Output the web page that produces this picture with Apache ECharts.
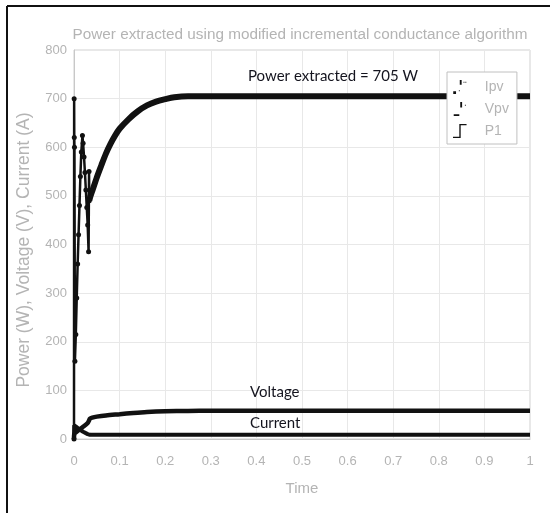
<!DOCTYPE html>
<html>
<head>
<meta charset="utf-8">
<script src="https://cdn.jsdelivr.net/npm/echarts@6/dist/echarts.min.js"></script>
<style>
html,body{margin:0;padding:0;background:#fff;}
#c{width:550px;height:513px;}
</style>
</head>
<body>
<div id="c"></div>
<script>
// ---- data ----
const xTicks = ['0','0.1','0.2','0.3','0.4','0.5','0.6','0.7','0.8','0.9','1'];
const yTicks = ['0','100','200','300','400','500','600','700','800'];

// Power P1 - start-up transient (dotted trace)
const pTransT = [0, 0.0003, 0.0006, 0.001, 0.002, 0.004, 0.006, 0.008, 0.010, 0.012, 0.014, 0.016, 0.0185, 0.020, 0.022, 0.024, 0.026, 0.028, 0.030, 0.032, 0.033, 0.0335];
const pTransV = [0, 700, 620, 600, 160, 215, 290, 360, 420, 480, 540, 590, 624, 608, 580, 548, 512, 476, 440, 385, 550, 490];
// Power P1 - settling curve
const pMainT = [0.0335, 0.035, 0.04, 0.05, 0.06, 0.07, 0.08, 0.09, 0.10, 0.12, 0.14, 0.16, 0.18, 0.20, 0.22, 0.25, 0.30, 1.0];
const pMainV = [490, 496, 510, 538, 563, 587, 607, 624, 638, 658, 674, 686, 694, 699, 703, 705, 705, 705];
// Voltage Vpv
const vT = [0, 0.0005, 0.005, 0.010, 0.020, 0.030, 0.033, 0.035, 0.04, 0.05, 0.07, 0.10, 0.13, 0.16, 0.20, 0.25, 0.30, 1.0];
const vV = [0, 10, 14, 18, 25, 33, 38, 42, 44, 46, 48.5, 51, 53.5, 55.5, 57, 57.8, 58, 58];
// Current Ipv
const iT = [0, 0.0005, 0.005, 0.010, 0.020, 0.030, 0.035, 1.0];
const iV = [0, 28, 25, 21, 15, 10, 8.5, 8.5];

const titleText = 'Power extracted using modified incremental conductance algorithm';
const yName = 'Power (W), Voltage (V), Current (A)';
const xName = 'Time';
const notePower = 'Power extracted = 705 W';
const noteVolt = 'Voltage';
const noteCurr = 'Current';
// ---------------------------------------

const zip = (a, b) => a.map((t, i) => [t, b[i]]);
const gray = '#b4b4b4';
const font = 'Liberation Sans, Arial, sans-serif';

const chart = echarts.init(document.getElementById('c'), null, {renderer: 'canvas'});
chart.setOption({
  animation: false,
  backgroundColor: '#fff',
  grid: {left: 74, right: 20, top: 50, bottom: 74, show: true, borderColor: '#d0d0d0', borderWidth: 1},
  xAxis: {
    type: 'value', min: 0, max: 1, interval: 0.1,
    name: xName, nameLocation: 'middle', nameGap: 42,
    nameTextStyle: {color: gray, fontSize: 15, fontFamily: font},
    axisLine: {show: true, lineStyle: {color: '#c8c8c8'}},
    axisTick: {show: false},
    axisLabel: {color: gray, fontSize: 13, fontFamily: font, margin: 16,
      formatter: v => xTicks[Math.round(v * 10)]},
    splitLine: {show: true, lineStyle: {color: '#e8e8e8', width: 1}}
  },
  yAxis: {
    type: 'value', min: 0, max: 800, interval: 100,
    axisLine: {show: true, lineStyle: {color: '#c8c8c8'}},
    axisTick: {show: false},
    axisLabel: {color: gray, fontSize: 13, fontFamily: font, margin: 7,
      formatter: v => yTicks[Math.round(v / 100)]},
    splitLine: {show: true, lineStyle: {color: '#e8e8e8', width: 1}}
  },
  legend: {
    orient: 'vertical', left: 447, top: 72,
    backgroundColor: '#fff', borderColor: '#c0c0c0', borderWidth: 1,
    padding: [8, 8, 6, 6], itemGap: 8, itemWidth: 16, itemHeight: 14,
    textStyle: {color: gray, fontSize: 14, fontFamily: font, padding: [2, 0, 0, 12]},
    data: [
      {name: 'Ipv', icon: 'path://M7,0h2v5h-2z M0,12h3v3h-3z M11,2h1v1h-1z M6,11h1v1h-1z M13,2h1v1h-1z'},
      {name: 'Vpv', icon: 'path://M7,0h2v6h-2z M0,13h6v2h-6z M12,3h1v1h-1z'},
      {name: 'P1', icon: 'path://M0,14h7v-14h8v1.5h-6.5v14h-8.5z'}
    ],
    itemStyle: {color: '#111'}
  },
  graphic: [
    {type: 'line', shape: {x1: 7, y1: 6, x2: 550, y2: 6}, style: {stroke: '#111', lineWidth: 2}, silent: true},
    {type: 'line', shape: {x1: 7, y1: 6, x2: 7, y2: 513}, style: {stroke: '#111', lineWidth: 2}, silent: true},
    {type: 'text', x: 300, y: 35, style: {text: titleText, fill: gray, font: '15.3px Liberation Sans, Arial, sans-serif', textAlign: 'center', textVerticalAlign: 'middle'}},
    {type: 'text', x: 24, y: 250, rotation: Math.PI / 2, style: {text: yName, fill: gray, font: '17.5px Liberation Sans, Arial, sans-serif', textAlign: 'center', textVerticalAlign: 'middle'}},
    {type: 'text', x: 248, y: 76, z: 10, style: {text: notePower, fill: '#14141e', font: '15px Lato, sans-serif', textVerticalAlign: 'middle'}},
    {type: 'text', x: 250, y: 392, z: 10, style: {text: noteVolt, fill: '#14141e', font: '15px Lato, sans-serif', textVerticalAlign: 'middle'}},
    {type: 'text', x: 250, y: 423, z: 10, style: {text: noteCurr, fill: '#14141e', font: '15px Lato, sans-serif', textVerticalAlign: 'middle'}}
  ],
  series: [
    {name: 'Ipv', type: 'line', data: zip(iT, iV), showSymbol: false, symbol: 'none',
      lineStyle: {color: '#111', width: 4}, itemStyle: {color: '#111'}},
    {name: 'Vpv', type: 'line', data: zip(vT, vV), showSymbol: false, symbol: 'none', smooth: 0.3,
      lineStyle: {color: '#111', width: 4.5}, itemStyle: {color: '#111'}},
    {name: 'P1', type: 'line', data: zip(pMainT, pMainV), showSymbol: false, symbol: 'none', smooth: 0.3,
      lineStyle: {color: '#111', width: 6}, itemStyle: {color: '#111'}},
    {name: 'P1 transient', type: 'line', data: zip(pTransT, pTransV), showSymbol: true, symbol: 'circle', symbolSize: 5,
      lineStyle: {color: '#111', width: 2.5}, itemStyle: {color: '#111'}}
  ]
});
</script>
</body>
</html>
